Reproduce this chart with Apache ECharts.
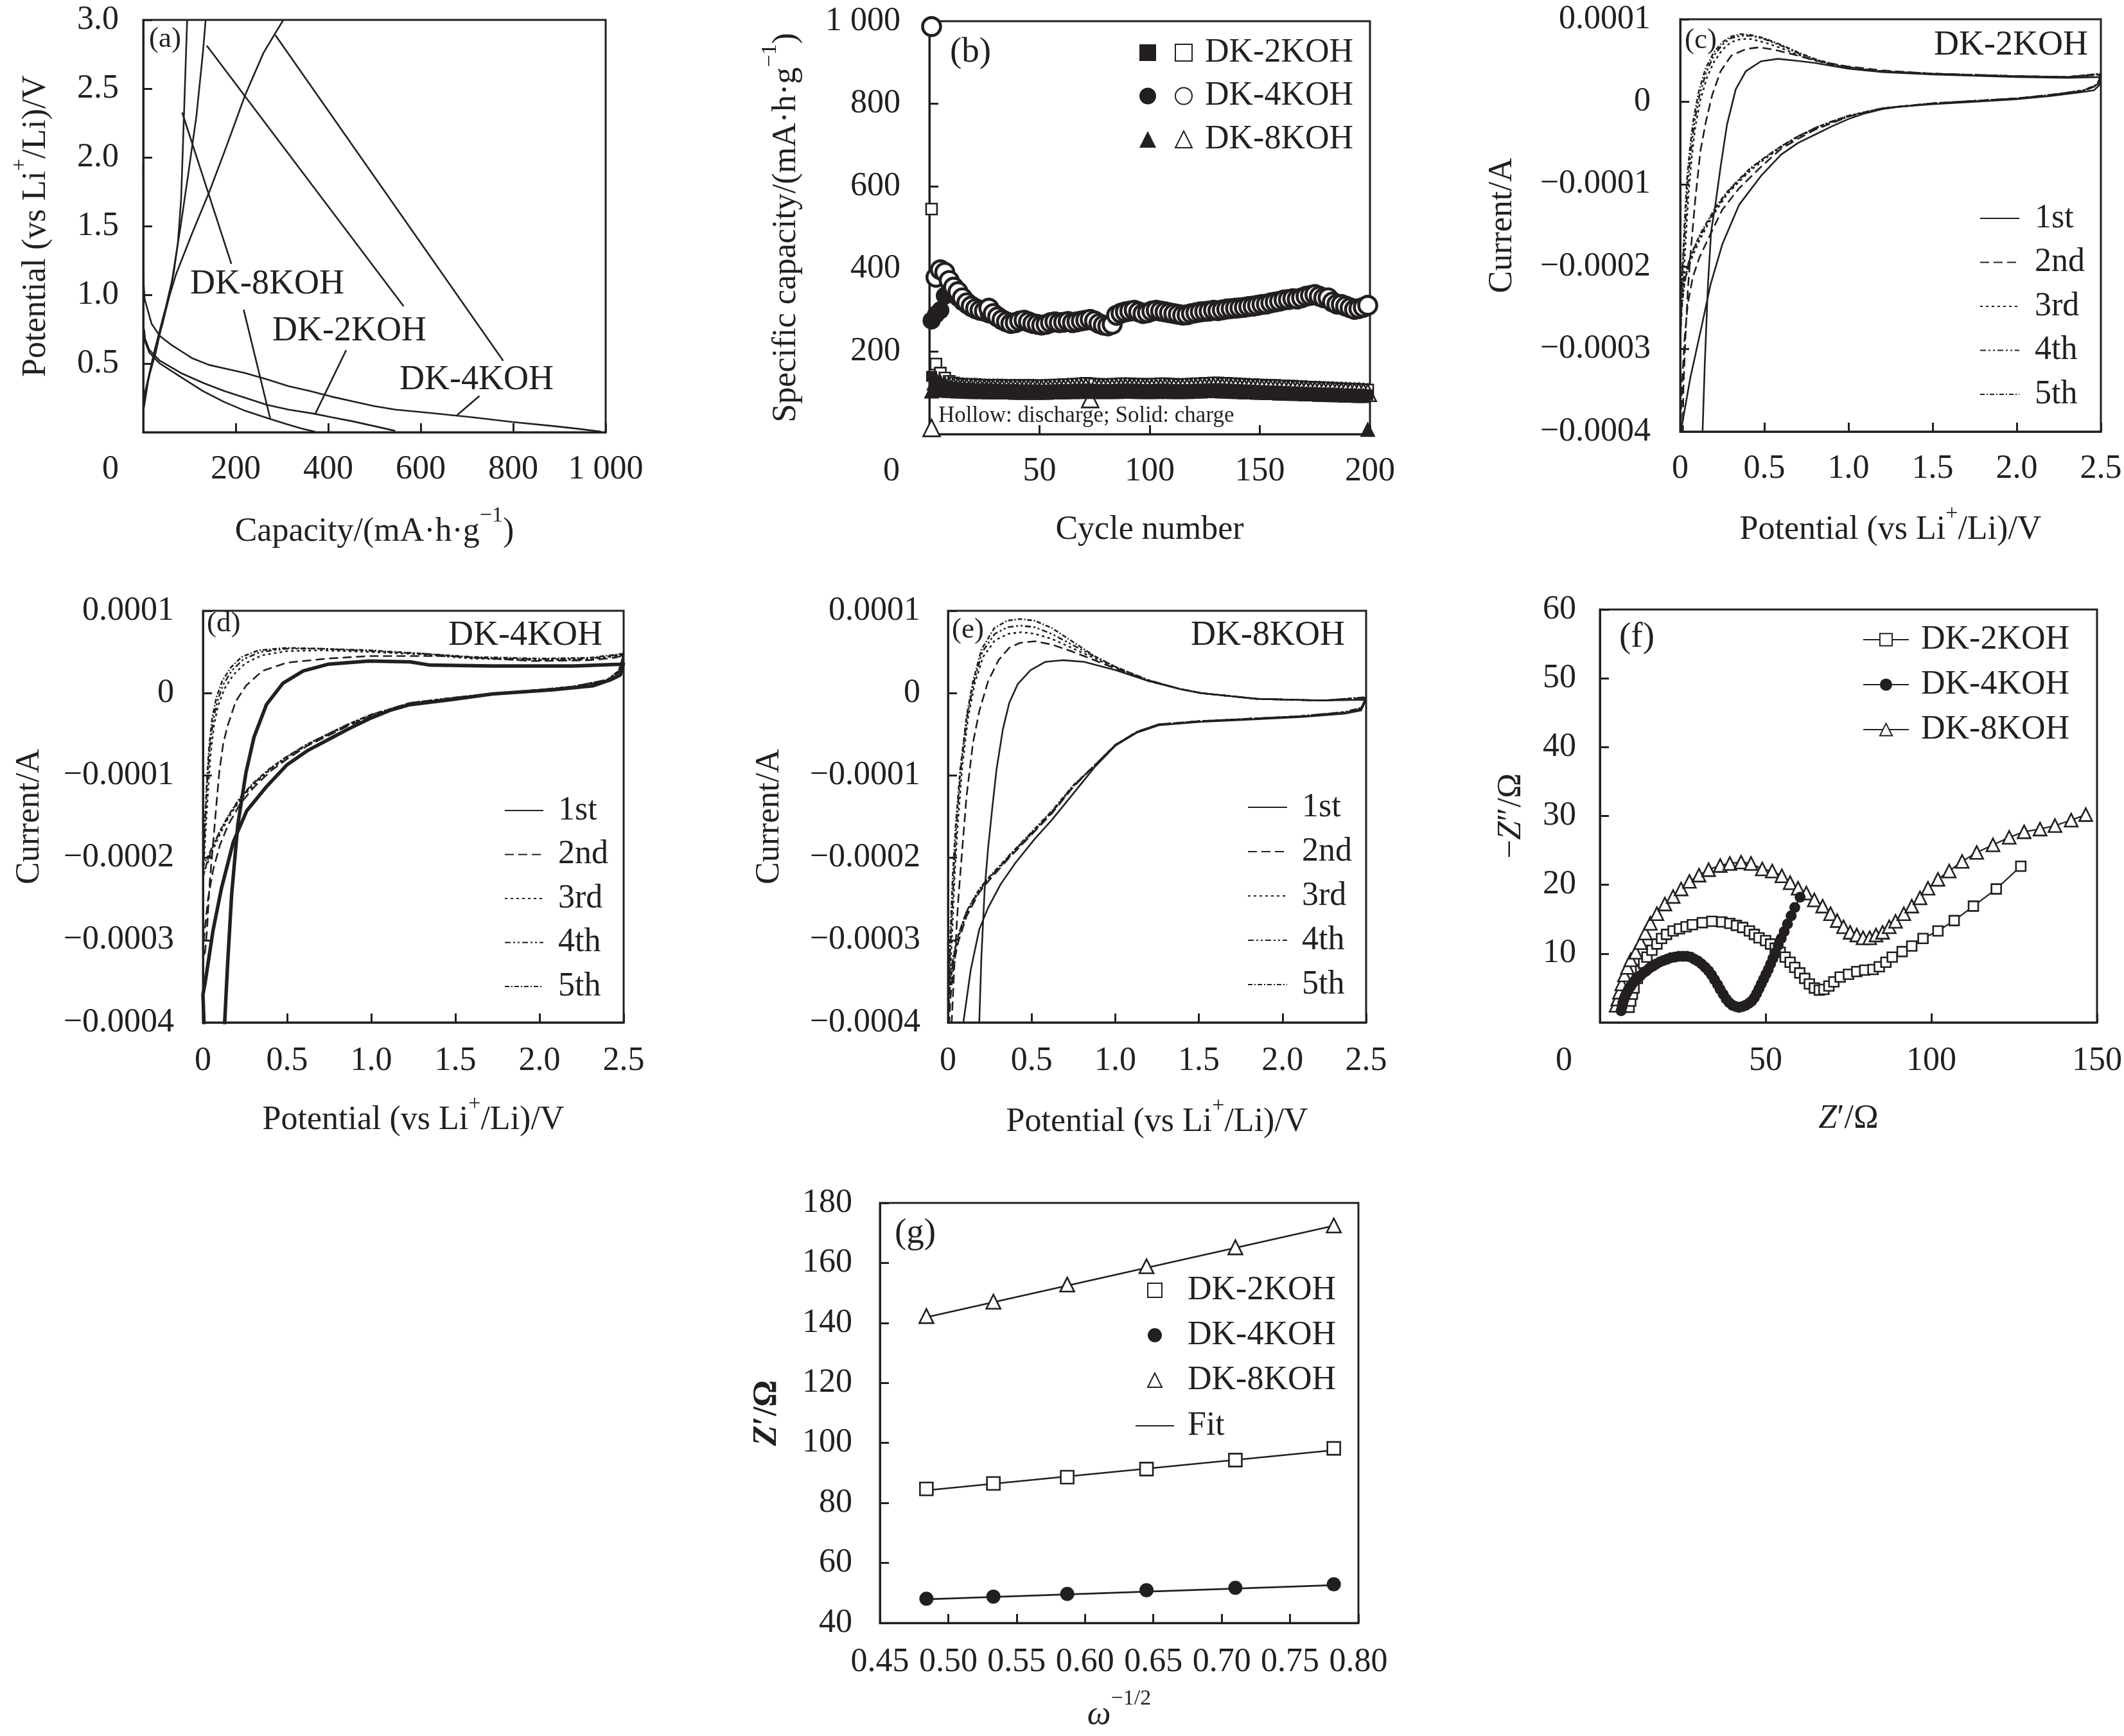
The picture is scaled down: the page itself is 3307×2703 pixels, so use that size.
<!DOCTYPE html>
<html><head><meta charset="utf-8">
<script src="https://cdn.jsdelivr.net/npm/echarts/dist/echarts.min.js"></script>
<style>html,body{margin:0;padding:0;background:#fff}#c{width:3307px;height:2703px}</style>
</head><body><div id="c"></div>
<script>
const K = '#231f20';
const FF = '"Liberation Serif","Times New Roman",serif';

// ---------------- (a) charge/discharge profiles: [capacity, potential] ----------------
const aDis4 = [[0,1.95],[0.6,1.5],[1.2,1.07],[3,0.97],[8,0.91],[18,0.79],[36,0.7],[59,0.64],[82,0.59],[105,0.54],[142,0.49],[175,0.465],[221,0.43],[267,0.385],[314,0.335],[360,0.3],[406,0.26],[452,0.225],[499,0.19],[545,0.165],[621,0.14],[709,0.11],[798,0.075],[887,0.045],[940,0.025],[990,0.005]];
const aDis2 = [[2,0.75],[4,0.68],[13,0.6],[36,0.52],[82,0.43],[129,0.36],[175,0.3],[221,0.25],[267,0.2],[314,0.165],[369,0.135],[406,0.11],[452,0.08],[499,0.045],[545,0.01]];
const aDis8 = [[2,0.72],[4,0.66],[13,0.58],[36,0.5],[82,0.4],[129,0.3],[175,0.22],[221,0.155],[274,0.097],[314,0.055],[345,0.025],[372,0.003]];
const aCh4 = [[1,0.17],[10,0.36],[25,0.6],[44,0.85],[71,1.15],[106,1.45],[143,1.75],[180,2.08],[220,2.45],[260,2.76],[285,2.9],[303,3.0]];
const aCh2 = [[2,0.25],[12,0.4],[27,0.58],[44,0.84],[62,1.1],[80,1.48],[97,1.87],[115,2.3],[129,2.76],[135,3.0]];
const aCh8 = [[1,0.2],[4,0.29],[22,0.56],[41,0.78],[55,0.97],[66,1.16],[75,1.38],[82,1.7],[86,2.1],[89,2.4],[92,2.7],[95,3.0]];
const aLeaders = [
  [[84.2,2.326],[190.6,1.225]], [[217.2,0.892],[274.8,0.097]],
  [[137.4,2.813],[563,0.917]], [[438.8,0.597],[372.3,0.136]],
  [[285.5,2.89],[778.4,0.52]], [[727,0.264],[678.2,0.123]]
];

// ---------------- (b) cycling: value at cycles 1,3,5,...,199 ----------------
const bCycles = Array.from({length:100}, (_, i) => 1 + 2*i);
const b4Dis = [987,380,398,392,372,356,345,330,318,310,304,300,298,305,292,284,277,272,268,270,274,276,272,268,266,264,266,270,272,270,271,273,270,272,274,276,278,274,268,264,262,266,288,293,296,298,300,296,292,294,298,300,298,296,294,292,290,288,289,292,294,296,297,298,300,299,301,303,304,305,306,307,309,310,312,314,315,318,320,322,325,326,328,327,330,334,336,338,334,330,330,320,315,314,310,306,302,304,307,312];
const b4Ch = [275,290,300,335,345,338,330,320,312,305,300,297,294,290,287,281,275,270,266,267,271,273,270,266,263,262,264,267,269,268,269,271,268,270,272,273,275,271,266,262,260,263,284,290,293,295,297,294,290,292,295,297,295,293,291,289,288,286,287,290,292,293,295,296,297,297,299,300,301,303,304,305,306,308,310,311,313,315,317,320,322,324,325,325,328,331,333,335,332,328,327,318,312,311,307,303,300,301,304,309];
const b2Dis = [545,170,148,136,128,124,122,121,120,121,120,119,119,118,118,119,118,118,117,118,118,117,118,118,117,117,118,118,119,119,120,120,121,121,122,123,122,121,121,120,120,121,121,122,122,122,121,121,121,120,121,121,122,122,121,121,120,120,121,121,122,122,123,123,124,124,123,123,122,122,121,121,120,120,119,119,118,118,118,117,117,116,116,115,115,114,114,113,113,112,112,111,111,110,110,109,109,108,108,107];
const b2Ch = [140,128,120,116,114,113,112,111,111,110,110,110,109,109,109,108,108,108,108,107,107,107,107,107,106,106,106,107,107,107,108,108,108,109,109,109,109,108,108,108,108,108,108,109,109,109,109,108,108,108,108,108,109,109,108,108,107,107,108,108,108,109,109,109,110,110,109,109,108,108,107,107,106,106,105,105,104,104,104,103,103,102,102,101,101,100,100,100,99,99,99,98,98,97,97,97,96,96,96,95];
const b8Dis = [15,128,122,118,116,115,114,113,113,112,112,112,111,111,111,111,110,110,110,110,110,110,110,110,109,109,110,110,110,111,111,112,112,113,113,114,85,113,112,112,112,112,113,113,113,113,113,112,112,112,112,113,113,113,112,112,112,112,113,113,113,114,114,114,115,115,114,114,113,113,112,112,112,111,111,110,110,110,109,109,109,108,108,107,107,107,106,106,106,105,105,105,104,104,104,103,103,103,102,100];
const b8Ch = [105,110,108,107,106,106,105,105,105,104,104,104,104,103,103,103,103,103,103,102,102,102,102,102,102,102,102,103,103,103,103,104,104,104,104,105,105,104,104,104,104,104,104,105,105,105,105,104,104,104,104,104,105,105,104,104,104,104,104,105,105,105,106,106,106,106,105,105,105,104,104,103,103,103,102,102,101,101,101,100,100,100,99,99,99,98,98,98,97,97,97,96,96,96,95,95,95,94,94,12];

// ---------------- (c)(d)(e) CV loops: [potential V, current 1e-4 A] ----------------
const cV1 = [[2.5,0.28],[2.49,0.2],[2.46,0.14],[2.4,0.12],[2.2,0.07],[2.0,0.03],[1.75,0.0],[1.5,-0.03],[1.3,-0.06],[1.2,-0.09],[1.1,-0.14],[1.0,-0.21],[0.9,-0.3],[0.8,-0.4],[0.7,-0.5],[0.6,-0.64],[0.48,-0.9],[0.35,-1.25],[0.25,-1.73],[0.18,-2.22],[0.13,-2.7],[0.06,-3.35],[0.01,-3.93],[0,-4.1],[0.05,-4.8],[0.13,-4.8],[0.133,-4.0],[0.146,-3.19],[0.165,-2.22],[0.184,-1.57],[0.209,-1.25],[0.24,-0.79],[0.278,-0.28],[0.33,0.15],[0.39,0.37],[0.48,0.49],[0.58,0.52],[0.68,0.5],[0.8,0.47],[1.0,0.4],[1.2,0.36],[1.5,0.33],[2.0,0.3],[2.3,0.29],[2.5,0.3]];
const cV2 = [[2.5,0.33],[2.48,0.2],[2.4,0.13],[2.0,0.04],[1.5,-0.02],[1.2,-0.08],[1.0,-0.18],[0.9,-0.26],[0.8,-0.34],[0.7,-0.45],[0.6,-0.57],[0.48,-0.79],[0.35,-1.05],[0.25,-1.31],[0.165,-1.67],[0.114,-1.89],[0.076,-2.12],[0.045,-2.45],[0.025,-2.9],[0.012,-3.4],[0.004,-3.9],[0,-4.3],[0.015,-4.3],[0.019,-3.5],[0.03,-2.9],[0.045,-2.3],[0.063,-1.8],[0.089,-1.2],[0.12,-0.6],[0.152,-0.25],[0.19,0.08],[0.24,0.37],[0.304,0.56],[0.392,0.64],[0.47,0.66],[0.56,0.63],[0.68,0.57],[0.8,0.5],[0.99,0.43],[1.2,0.38],[1.5,0.34],[2.0,0.31],[2.3,0.3],[2.5,0.33]];
const cV3 = [[2.5,0.33],[2.48,0.21],[2.4,0.14],[2.2,0.08],[2.0,0.04],[1.5,-0.02],[1.2,-0.08],[1.0,-0.18],[0.9,-0.25],[0.8,-0.33],[0.7,-0.43],[0.6,-0.55],[0.5,-0.7],[0.42,-0.83],[0.35,-0.97],[0.28,-1.12],[0.22,-1.3],[0.17,-1.47],[0.12,-1.66],[0.08,-1.84],[0.05,-2.0],[0.025,-2.2],[0.008,-2.45],[0.002,-2.6],[0.01,-2.45],[0.02,-2.15],[0.035,-1.6],[0.05,-1.1],[0.07,-0.65],[0.09,-0.3],[0.12,0.02],[0.16,0.3],[0.2,0.48],[0.25,0.63],[0.3,0.72],[0.36,0.76],[0.42,0.76],[0.5,0.72],[0.6,0.65],[0.7,0.57],[0.8,0.5],[0.9,0.45],[1.0,0.41],[1.2,0.37],[1.5,0.34],[2.0,0.31],[2.3,0.3],[2.5,0.33]];
const cV4 = [[2.5,0.34],[2.48,0.21],[2.4,0.14],[2.2,0.08],[2.0,0.04],[1.5,-0.02],[1.2,-0.08],[1.0,-0.17],[0.9,-0.24],[0.8,-0.32],[0.7,-0.42],[0.6,-0.54],[0.5,-0.68],[0.42,-0.81],[0.35,-0.95],[0.28,-1.1],[0.22,-1.27],[0.17,-1.44],[0.12,-1.62],[0.08,-1.79],[0.05,-1.95],[0.025,-2.12],[0.008,-2.3],[0.002,-2.4],[0.008,-2.3],[0.016,-2.0],[0.03,-1.5],[0.045,-1.0],[0.065,-0.58],[0.085,-0.24],[0.115,0.08],[0.155,0.36],[0.2,0.56],[0.25,0.69],[0.3,0.77],[0.36,0.8],[0.42,0.8],[0.5,0.76],[0.6,0.68],[0.7,0.59],[0.8,0.51],[0.9,0.45],[1.0,0.41],[1.2,0.37],[1.5,0.34],[2.0,0.31],[2.3,0.3],[2.5,0.34]];
const cV5 = [[2.5,0.34],[2.48,0.21],[2.4,0.14],[2.2,0.08],[2.0,0.04],[1.5,-0.02],[1.2,-0.08],[1.0,-0.17],[0.9,-0.24],[0.8,-0.32],[0.7,-0.42],[0.6,-0.54],[0.5,-0.68],[0.42,-0.8],[0.35,-0.94],[0.28,-1.09],[0.22,-1.25],[0.17,-1.42],[0.12,-1.6],[0.08,-1.78],[0.05,-1.96],[0.025,-2.2],[0.01,-2.5],[0.003,-2.8],[0.006,-2.6],[0.012,-2.1],[0.025,-1.5],[0.04,-0.95],[0.06,-0.52],[0.08,-0.2],[0.11,0.12],[0.15,0.4],[0.2,0.6],[0.25,0.72],[0.3,0.79],[0.36,0.82],[0.42,0.81],[0.5,0.77],[0.6,0.69],[0.7,0.6],[0.8,0.52],[0.9,0.46],[1.0,0.42],[1.2,0.37],[1.5,0.34],[2.0,0.31],[2.3,0.3],[2.5,0.34]];

const dV1 = [[2.5,0.37],[2.48,0.22],[2.42,0.16],[2.32,0.09],[2.08,0.04],[1.72,-0.01],[1.47,-0.08],[1.23,-0.14],[1.11,-0.21],[0.99,-0.31],[0.86,-0.44],[0.74,-0.57],[0.62,-0.7],[0.5,-0.87],[0.38,-1.13],[0.26,-1.43],[0.18,-1.81],[0.11,-2.37],[0.06,-2.88],[0.012,-3.53],[0,-3.66],[0.02,-4.8],[0.12,-4.8],[0.129,-4.0],[0.146,-3.31],[0.17,-2.46],[0.207,-1.6],[0.256,-0.96],[0.304,-0.53],[0.377,-0.14],[0.475,0.12],[0.596,0.27],[0.742,0.35],[0.986,0.39],[1.23,0.38],[1.35,0.34],[1.72,0.33],[2.2,0.33],[2.48,0.35],[2.5,0.37]];
const dV2 = [[2.5,0.46],[2.47,0.25],[2.4,0.15],[2.2,0.07],[2.0,0.03],[1.7,-0.02],[1.47,-0.07],[1.23,-0.13],[1.0,-0.28],[0.86,-0.4],[0.74,-0.52],[0.62,-0.64],[0.5,-0.8],[0.4,-0.95],[0.3,-1.15],[0.22,-1.35],[0.15,-1.6],[0.1,-1.85],[0.06,-2.15],[0.03,-2.5],[0.01,-2.9],[0,-3.1],[0.01,-3.2],[0.024,-2.88],[0.04,-2.3],[0.061,-1.81],[0.08,-1.35],[0.097,-0.96],[0.12,-0.62],[0.146,-0.4],[0.195,-0.1],[0.256,0.09],[0.353,0.27],[0.5,0.37],[0.742,0.42],[0.986,0.45],[1.47,0.45],[1.96,0.39],[2.3,0.4],[2.45,0.43],[2.5,0.46]];
const dV3 = [[2.5,0.46],[2.47,0.26],[2.4,0.16],[2.2,0.08],[2.0,0.04],[1.7,-0.01],[1.47,-0.06],[1.23,-0.12],[1.0,-0.27],[0.86,-0.39],[0.74,-0.51],[0.62,-0.63],[0.5,-0.78],[0.4,-0.93],[0.3,-1.12],[0.22,-1.3],[0.15,-1.52],[0.1,-1.72],[0.06,-1.9],[0.03,-2.05],[0.01,-2.15],[0,-2.2],[0.005,-2.1],[0.015,-1.7],[0.03,-1.2],[0.045,-0.75],[0.065,-0.4],[0.09,-0.15],[0.13,0.06],[0.18,0.22],[0.25,0.36],[0.35,0.46],[0.5,0.51],[0.7,0.52],[1.0,0.5],[1.3,0.47],[1.6,0.42],[2.0,0.4],[2.3,0.41],[2.5,0.46]];
const dV4 = [[2.5,0.47],[2.47,0.26],[2.4,0.16],[2.2,0.08],[2.0,0.04],[1.7,-0.01],[1.47,-0.06],[1.23,-0.12],[1.0,-0.26],[0.86,-0.38],[0.74,-0.5],[0.62,-0.62],[0.5,-0.77],[0.4,-0.92],[0.3,-1.1],[0.22,-1.28],[0.15,-1.5],[0.1,-1.68],[0.06,-1.85],[0.03,-1.98],[0.01,-2.06],[0,-2.1],[0.004,-2.0],[0.012,-1.6],[0.025,-1.1],[0.04,-0.68],[0.06,-0.34],[0.085,-0.1],[0.12,0.1],[0.17,0.27],[0.24,0.41],[0.34,0.5],[0.5,0.54],[0.7,0.54],[1.0,0.51],[1.3,0.48],[1.6,0.43],[2.0,0.41],[2.3,0.42],[2.5,0.47]];
const dV5 = [[2.5,0.48],[2.47,0.27],[2.4,0.16],[2.2,0.08],[2.0,0.04],[1.7,-0.01],[1.47,-0.06],[1.23,-0.12],[1.0,-0.26],[0.86,-0.38],[0.74,-0.5],[0.62,-0.62],[0.5,-0.77],[0.4,-0.91],[0.3,-1.09],[0.22,-1.27],[0.15,-1.49],[0.1,-1.68],[0.06,-1.86],[0.03,-2.02],[0.01,-2.15],[0,-2.25],[0.004,-2.1],[0.01,-1.65],[0.022,-1.1],[0.036,-0.65],[0.055,-0.3],[0.08,-0.05],[0.115,0.15],[0.165,0.31],[0.23,0.44],[0.33,0.52],[0.5,0.55],[0.7,0.54],[1.0,0.52],[1.3,0.48],[1.6,0.44],[2.0,0.42],[2.3,0.43],[2.5,0.48]];

const eV1 = [[2.5,-0.08],[2.47,-0.21],[2.37,-0.25],[2.11,-0.29],[1.72,-0.33],[1.51,-0.35],[1.26,-0.39],[1.13,-0.48],[1.0,-0.64],[0.876,-0.9],[0.749,-1.22],[0.621,-1.54],[0.519,-1.77],[0.404,-2.06],[0.315,-2.32],[0.239,-2.61],[0.187,-2.87],[0.136,-3.36],[0.092,-4.0],[0.07,-4.8],[0.18,-4.8],[0.187,-4.0],[0.2,-3.19],[0.219,-2.39],[0.239,-1.9],[0.264,-1.41],[0.29,-0.93],[0.328,-0.44],[0.366,-0.12],[0.417,0.11],[0.494,0.28],[0.583,0.38],[0.685,0.4],[0.813,0.38],[1.0,0.28],[1.195,0.15],[1.387,0.05],[1.514,0.0],[1.85,-0.07],[2.24,-0.09],[2.5,-0.08]];
const eV2 = [[2.5,-0.06],[2.47,-0.19],[2.37,-0.24],[2.11,-0.28],[1.72,-0.32],[1.51,-0.34],[1.26,-0.38],[1.13,-0.47],[1.0,-0.63],[0.876,-0.88],[0.749,-1.14],[0.621,-1.46],[0.494,-1.73],[0.366,-2.0],[0.239,-2.29],[0.187,-2.42],[0.111,-2.71],[0.06,-3.03],[0.034,-3.29],[0.015,-3.7],[0.005,-4.1],[0.015,-4.3],[0.022,-4.0],[0.041,-3.19],[0.06,-2.55],[0.085,-1.9],[0.111,-1.25],[0.149,-0.61],[0.187,-0.22],[0.239,0.14],[0.302,0.4],[0.366,0.55],[0.43,0.61],[0.519,0.63],[0.621,0.59],[0.749,0.5],[0.876,0.4],[1.0,0.3],[1.195,0.15],[1.387,0.05],[1.514,0.0],[1.85,-0.07],[2.24,-0.09],[2.5,-0.06]];
const eV3 = [[2.5,-0.06],[2.47,-0.19],[2.37,-0.24],[2.11,-0.28],[1.72,-0.32],[1.51,-0.34],[1.26,-0.38],[1.13,-0.47],[1.0,-0.63],[0.876,-0.88],[0.749,-1.13],[0.621,-1.45],[0.494,-1.72],[0.366,-1.99],[0.239,-2.27],[0.187,-2.4],[0.111,-2.68],[0.06,-2.98],[0.034,-3.22],[0.015,-3.5],[0.003,-3.7],[0.01,-3.6],[0.025,-2.9],[0.04,-2.2],[0.06,-1.55],[0.085,-0.9],[0.12,-0.3],[0.16,0.12],[0.21,0.44],[0.28,0.64],[0.36,0.72],[0.44,0.74],[0.52,0.72],[0.62,0.66],[0.75,0.54],[0.88,0.42],[1.0,0.31],[1.195,0.15],[1.387,0.05],[1.514,0.0],[1.85,-0.07],[2.24,-0.09],[2.5,-0.06]];
const eV4 = [[2.5,-0.05],[2.47,-0.18],[2.37,-0.23],[2.11,-0.28],[1.72,-0.32],[1.51,-0.34],[1.26,-0.38],[1.13,-0.47],[1.0,-0.63],[0.876,-0.88],[0.749,-1.13],[0.621,-1.44],[0.494,-1.71],[0.366,-1.98],[0.239,-2.26],[0.187,-2.39],[0.111,-2.66],[0.06,-2.95],[0.034,-3.17],[0.015,-3.4],[0.003,-3.55],[0.005,-3.5],[0.02,-2.85],[0.035,-2.2],[0.052,-1.56],[0.078,-0.9],[0.115,-0.28],[0.155,0.14],[0.205,0.5],[0.28,0.72],[0.355,0.8],[0.435,0.82],[0.52,0.8],[0.62,0.72],[0.75,0.58],[0.88,0.44],[1.0,0.32],[1.195,0.16],[1.387,0.05],[1.514,0.0],[1.85,-0.07],[2.24,-0.09],[2.5,-0.05]];
const eV5 = [[2.5,-0.05],[2.47,-0.18],[2.37,-0.23],[2.11,-0.28],[1.72,-0.32],[1.51,-0.34],[1.26,-0.38],[1.13,-0.47],[1.0,-0.63],[0.876,-0.88],[0.749,-1.12],[0.621,-1.43],[0.494,-1.7],[0.366,-1.97],[0.239,-2.25],[0.187,-2.38],[0.111,-2.65],[0.06,-2.95],[0.034,-3.2],[0.015,-3.5],[0.003,-3.85],[0.008,-3.4],[0.015,-2.87],[0.028,-2.22],[0.047,-1.58],[0.073,-0.93],[0.111,-0.28],[0.149,0.14],[0.2,0.53],[0.277,0.79],[0.353,0.88],[0.43,0.9],[0.519,0.88],[0.621,0.79],[0.749,0.62],[0.876,0.45],[1.0,0.32],[1.195,0.16],[1.387,0.05],[1.514,0.0],[1.85,-0.07],[2.24,-0.09],[2.5,-0.05]];

// ---------------- (f) Nyquist: [Z', -Z''] ----------------
const f2 = [[8.8,2.2],[9.3,3.1],[9.8,4.1],[10.3,5.0],[11.3,6.4],[12.3,7.7],[13.2,8.6],[14.2,9.5],[15.7,10.5],[17.2,11.4],[18.6,12.2],[20.1,12.8],[22.1,13.3],[24,13.6],[26,13.9],[27.9,14.2],[30.9,14.5],[33.8,14.7],[36.8,14.6],[39.2,14.4],[41.2,14.1],[43.1,13.8],[45.1,13.3],[46.6,12.8],[48,12.3],[50,11.9],[51.5,11.4],[52.9,10.8],[54.4,10.2],[55.9,9.5],[57.4,8.75],[58.8,8.0],[60.3,7.2],[61.8,6.4],[63.2,5.6],[64.7,5.0],[66.2,4.7],[67.6,4.8],[69.1,5.3],[70.6,5.9],[72.5,6.6],[75,7.0],[77.5,7.4],[79.9,7.6],[82.4,7.7],[84.3,8.1],[86.3,8.75],[88.2,9.5],[91.2,10.3],[94.1,11.1],[97.5,12.2],[102,13.3],[106.9,14.8],[112.7,16.9],[119.6,19.4],[127,22.7]];
const f4 = [[6.4,1.7],[6.7,2.3],[6.9,2.8],[7.2,3.3],[7.6,3.8],[8.1,4.3],[8.6,4.8],[9.2,5.2],[9.9,5.7],[10.6,6.1],[11.4,6.5],[12.2,6.8],[13.1,7.2],[14.0,7.5],[15.0,7.9],[16.0,8.2],[17.0,8.5],[18.1,8.8],[19.2,9.0],[20.3,9.2],[21.4,9.4],[22.6,9.5],[23.8,9.6],[25.0,9.6],[26.2,9.6],[27.4,9.5],[28.5,9.2],[29.6,8.9],[30.7,8.5],[31.8,8.0],[32.8,7.5],[33.7,6.9],[34.6,6.2],[35.5,5.5],[36.3,4.8],[37.2,4.1],[38.1,3.4],[39.0,2.9],[40.0,2.5],[41.0,2.3],[42.0,2.2],[43.0,2.3],[44.0,2.5],[45.0,2.8],[45.8,3.1],[46.6,3.6],[47.3,4.2],[48.0,4.9],[48.7,5.6],[49.4,6.3],[50.1,7.0],[50.8,7.7],[51.5,8.5],[52.2,9.3],[53.0,10.2],[53.8,11.2],[54.7,12.2],[55.6,13.2],[56.6,14.3],[57.7,15.5],[58.8,16.7],[60.4,18.2]];
const f8 = [[4.9,2.5],[5.4,3.4],[5.9,4.4],[6.6,5.6],[7.4,6.9],[8.3,8.0],[9.3,9.1],[10.8,10.2],[12.3,11.6],[13.7,13.0],[15.2,14.4],[17.2,15.8],[19.6,17.2],[22.1,18.3],[24.5,19.4],[27,20.5],[29.9,21.4],[32.8,22.2],[36.3,22.8],[39.2,23.1],[42.6,23.3],[45.6,23.1],[49,22.3],[52,22.0],[54.9,21.3],[57.4,20.3],[59.8,19.5],[62.3,18.8],[64.7,17.8],[67.2,16.9],[69.6,15.8],[71.6,14.8],[73.5,13.9],[75.5,13.1],[77.5,12.7],[79.4,12.3],[81.4,12.3],[83.3,12.7],[85.3,13.1],[87.3,13.9],[89.2,14.7],[91.7,15.8],[94.1,16.9],[96.6,18.1],[99,19.5],[102,20.8],[105.4,22.0],[109.3,23.4],[113.7,24.7],[118.6,25.8],[123.5,26.9],[128,27.7],[132.8,28.1],[137.3,28.6],[142.2,29.4],[146.6,30.2]];

// ---------------- (g) Warburg plot ----------------
const gX = [0.484,0.533,0.587,0.645,0.710,0.782];
const g2 = [84.7,86.5,88.6,91.3,94.3,98.2];
const g4 = [48.1,48.8,49.7,50.9,51.7,52.9];
const g8 = [142.3,147.1,152.8,158.9,165.2,172.5];
const gFit2 = [[0.484,84.2],[0.782,97.6]];
const gFit4 = [[0.484,47.9],[0.782,52.6]];
const gFit8 = [[0.484,141.9],[0.782,172.4]];

// ---------------- layout ----------------
const GR = [
  {left:223, top:31, width:720, height:642},   // a
  {left:1447, top:33, width:686, height:643},  // b
  {left:2616, top:30, width:655, height:642},  // c
  {left:316, top:951, width:655, height:641},  // d
  {left:1476, top:951, width:651, height:641}, // e
  {left:2491, top:949, width:774, height:643}, // f
  {left:1370, top:1873, width:745, height:654} // g
];
const RICH = {
  n:{fontFamily:FF,fontSize:52,color:K,lineHeight:68,verticalAlign:'bottom'},
  i:{fontFamily:FF,fontSize:52,color:K,lineHeight:68,verticalAlign:'bottom',fontStyle:'italic'},
  nb:{fontFamily:FF,fontSize:52,color:K,lineHeight:68,verticalAlign:'bottom',fontWeight:'bold'},
  ib:{fontFamily:FF,fontSize:52,color:K,lineHeight:68,verticalAlign:'bottom',fontStyle:'italic',fontWeight:'bold'},
  s:{fontFamily:FF,fontSize:34,color:K,verticalAlign:'top'}
};
function axis(gi, o) {
  return {
    type:'value', gridIndex:gi, min:o.min, max:o.max, interval:o.interval,
    name:o.name, nameLocation:'middle', nameGap:o.nameGap,
    nameTextStyle:{fontFamily:FF,fontSize:52,color:K,lineHeight:68,rich:RICH},
    axisLine:{show:true,onZero:false,lineStyle:{color:K,width:3}},
    axisTick:{show:true,inside:true,length:14,lineStyle:{color:K,width:3}},
    splitLine:{show:false},
    axisLabel:{show:true,inside:false,margin:o.margin,color:K,fontFamily:FF,fontSize:52,
      hideOverlap:false,showMinLabel:true,showMaxLabel:true,formatter:o.fmt,
      rich:{o:{fontFamily:FF,fontSize:52,color:K,padding:[0,o.pad||0,0,0]}}}
  };
}
const POT = '{n|Potential (vs Li}{s|+}{n|/Li)/V}';
const cvX = v => v === 0 ? '0' : v.toFixed(1);
const cvY = v => v === 0 ? '0' : (v < 0 ? '−' : '') + '0.000' + Math.abs(v);
const xAxes = [
  axis(0,{min:0,max:1000,interval:200,name:'{n|Capacity/(mA·h·g}{s|−1}{n|)}',nameGap:113,margin:32,pad:102,fmt:v=>v===0?'{o|0}':(v===1000?'1 000':String(v))}),
  axis(1,{min:0,max:200,interval:50,name:'{n|Cycle number}',nameGap:107,margin:32,pad:118,fmt:v=>v===0?'{o|0}':String(v)}),
  axis(2,{min:0,max:2.5,interval:0.5,name:POT,nameGap:111,margin:32,fmt:cvX}),
  axis(3,{min:0,max:2.5,interval:0.5,name:POT,nameGap:110,margin:34,fmt:cvX}),
  axis(4,{min:0,max:2.5,interval:0.5,name:POT,nameGap:113,margin:34,fmt:cvX}),
  axis(5,{min:0,max:150,interval:50,name:'{i|Z}{n|′/Ω}',nameGap:108,margin:34,pad:112,fmt:v=>v===0?'{o|0}':String(v)}),
  axis(6,{min:0.45,max:0.8,interval:0.05,name:'{i|ω}{s|−1/2}',nameGap:101,margin:35,fmt:v=>v.toFixed(2)})
];
const yAxes = [
  axis(0,{min:0,max:3,interval:0.5,name:POT,nameGap:141,margin:38,fmt:v=>v===0?'':v.toFixed(1)}),
  axis(1,{min:0,max:1000,interval:200,name:'{n|Specific capacity/(mA·h·g}{s|−1}{n|)}',nameGap:197,margin:45,fmt:v=>v===0?'':(v===1000?'1 000':String(v))}),
  axis(2,{min:-4,max:1,interval:1,name:'{n|Current/A}',nameGap:251,margin:46,fmt:cvY}),
  axis(3,{min:-4,max:1,interval:1,name:'{n|Current/A}',nameGap:244,margin:45,fmt:cvY}),
  axis(4,{min:-4,max:1,interval:1,name:'{n|Current/A}',nameGap:252,margin:43,fmt:cvY}),
  axis(5,{min:0,max:60,interval:10,name:'{n|−}{i|Z}{n|″/Ω}',nameGap:112,margin:37,fmt:v=>v===0?'':String(v)}),
  axis(6,{min:40,max:180,interval:20,name:'{ib|Z}{nb|′/Ω}',nameGap:149,margin:43,fmt:v=>String(v)})
];

const series = [];
function line(gi, name, data, lw, type, extra) {
  series.push(Object.assign({type:'line', name, xAxisIndex:gi, yAxisIndex:gi, data,
    symbol:'none', showSymbol:false, smooth:false, clip:true, silent:true,
    lineStyle:{color:K, width:lw, type:type||'solid'}, itemStyle:{color:K}, z:2}, extra||{}));
}
// (a)
[aDis4, aDis2, aDis8, aCh4, aCh2, aCh8].forEach((d, i) => line(0, 'a' + i, d, 2.6));
aLeaders.forEach((d, i) => line(0, 'aL' + i, d, 2.6));
// (b)
const HOLLOW = {color:'#ffffff', borderColor:K, borderWidth:2.6, opacity:1};
const SOLID = {color:K, borderColor:K, borderWidth:0, opacity:1};
function scat(gi, name, data, symbol, size, hollow, z) {
  series.push({type:'scatter', name, xAxisIndex:gi, yAxisIndex:gi, data, symbol, symbolSize:size, symbolKeepAspect:true, silent:true, z:z||2,
    itemStyle: hollow ? HOLLOW : SOLID});
}
const zipC = vals => vals.map((v, i) => [bCycles[i], v]);
scat(1, 'b-d|DK-2KOH', zipC(b2Dis), 'rect', 17, true, 2);
scat(1, 'b-d|DK-8KOH', zipC(b8Dis), 'triangle', 26, true, 2);
scat(1, 'b-c|DK-2KOH', zipC(b2Ch), 'rect', 17, false, 3);
scat(1, 'b-c|DK-8KOH', zipC(b8Ch), 'triangle', 24, false, 3);
// DK-4KOH: charge and discharge markers drawn cycle by cycle (interleaved), legend entries via empty series
scat(1, 'b-d|DK-4KOH', [], 'circle', 28, true, 4);
scat(1, 'b-c|DK-4KOH', [], 'circle', 28, false, 4);
const b4Mixed = [];
bCycles.forEach((c, i) => {
  b4Mixed.push({value:[c, b4Ch[i]], itemStyle:SOLID});
  b4Mixed.push({value:[c, b4Dis[i]], itemStyle:Object.assign({}, HOLLOW, {borderWidth:4.6})});
});
series.push({type:'scatter', name:'b-m|DK-4KOH', xAxisIndex:1, yAxisIndex:1, data:b4Mixed, symbol:'circle', symbolSize:28, silent:true, z:5, itemStyle:SOLID});
// (c)(d)(e)
const DASH = ['solid', [14,7], [4,5], [9,4,3,4,3,4], [7,3,2,3]];
const ORD = ['1st','2nd','3rd','4th','5th'];
[[cV1,cV2,cV3,cV4,cV5],[dV1,dV2,dV3,dV4,dV5],[eV1,eV2,eV3,eV4,eV5]].forEach((set, p) => {
  const tag = ['c','d','e'][p];
  set.forEach((d, k) => line(2 + p, tag + '|' + ORD[k], d, (p === 1 && k === 0) ? 5.5 : 2.6, DASH[k], {z: 10 - k}));
});
// (f)
function nyq(name, data, symbol, size, hollow, z) {
  series.push({type:'line', name, xAxisIndex:5, yAxisIndex:5, data, symbol, symbolSize:size, showSymbol:true, showAllSymbol:true, silent:true, z,
    lineStyle:{color:K, width:2.2}, itemStyle: hollow ? HOLLOW : SOLID});
}
nyq('f|DK-2KOH', f2, 'rect', 15, true, 2);
nyq('f|DK-8KOH', f8, 'triangle', 20, true, 3);
nyq('f|DK-4KOH', f4, 'circle', 17, false, 4);
// (g)
const zipG = vals => vals.map((v, i) => [gX[i], v]);
line(6, 'g|Fit', gFit8, 2.6); line(6, 'g|Fit', gFit2, 2.6); line(6, 'g|Fit', gFit4, 2.6);
scat(6, 'g|DK-2KOH', zipG(g2), 'rect', 20, true, 5);
scat(6, 'g|DK-4KOH', zipG(g4), 'circle', 22, false, 5);
scat(6, 'g|DK-8KOH', zipG(g8), 'triangle', 22, true, 5);

const strip = n => n.split('|')[1];
function legend(o, tp, hideSym) {
  const l = Object.assign({show:true, orient:'vertical', padding:0, selectedMode:false, formatter:strip,
    symbolKeepAspect:true,
    textStyle:{fontFamily:FF, fontSize:52, color:K, lineHeight:56, padding:[0,0,0,tp||0]}}, o);
  if (hideSym) l.itemStyle = {opacity:0};
  return l;
}
const legends = [
  legend({data:['b-c|DK-2KOH','b-c|DK-4KOH','b-c|DK-8KOH'], left:1774, top:54, itemWidth:26, itemHeight:26, itemGap:11.5, formatter:()=>' '}),
  legend({data:['b-d|DK-2KOH','b-d|DK-4KOH','b-d|DK-8KOH'], left:1829, top:54, itemWidth:26, itemHeight:26, itemGap:11.5}, 15),
  legend({data:ORD.map(s=>'c|'+s), left:3082, top:312, itemWidth:61, itemHeight:20, itemGap:12.5}, 19, true),
  legend({data:ORD.map(s=>'d|'+s), left:785, top:1234, itemWidth:60, itemHeight:20, itemGap:12.5}, 18, true),
  legend({data:ORD.map(s=>'e|'+s), left:1942, top:1229, itemWidth:61, itemHeight:20, itemGap:13}, 18, true),
  legend({data:['f|DK-2KOH','f|DK-4KOH','f|DK-8KOH'], left:2900, top:968, itemWidth:71, itemHeight:24, itemGap:14}, 14),
  legend({data:['g|DK-2KOH','g|DK-4KOH','g|DK-8KOH'], left:1786, top:1981, itemWidth:22, itemHeight:22, itemGap:14}, 35),
  legend({data:['g|Fit'], left:1767, top:2192, itemWidth:60, itemHeight:22, itemGap:14}, 16, true)
];

const TX = [
  ['(a)',232,61,45,'left'],['(b)',1479,82,55,'left'],['(c)',2623,63,45,'left'],
  ['(d)',322,971,45,'left'],['(e)',1482,981,45,'left'],['(f)',2521,993,55,'left'],['(g)',1393,1921,55,'left'],
  ['DK-2KOH',3251,71,54,'right'],['DK-4KOH',938,990,54,'right'],['DK-8KOH',2094,990,54,'right'],
  ['DK-8KOH',296,443,54,'left'],['DK-2KOH',424,516,54,'left'],['DK-4KOH',622,592,54,'left'],
  ['Hollow: discharge; Solid: charge',1461,648,35,'left']
];
const graphic = TX.map(t => ({type:'text', x:t[1], y:t[2], z:100, silent:true,
  style:{text:t[0], fontFamily:FF, fontSize:t[3], fill:K, align:t[4], verticalAlign:'middle'}}));

const chart = echarts.init(document.getElementById('c'), null, {renderer:'canvas'});
chart.setOption({
  animation:false, backgroundColor:'#ffffff',
  grid: GR.map(g => Object.assign({show:true, borderColor:K, borderWidth:3, backgroundColor:'transparent', containLabel:false, outerBoundsMode:'none'}, g)),
  xAxis:xAxes, yAxis:yAxes, legend:legends, series, graphic
});
</script></body></html>
